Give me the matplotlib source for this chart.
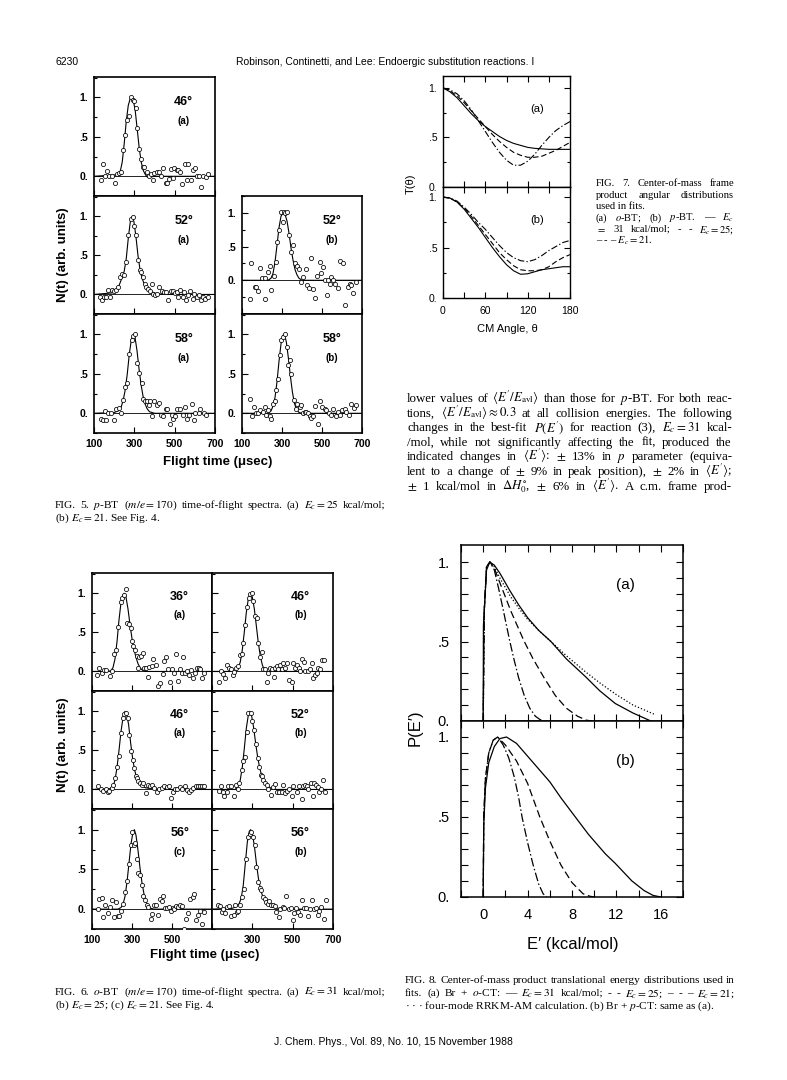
import numpy as np
import matplotlib
matplotlib.use('Agg')
import matplotlib.pyplot as plt
from matplotlib.ticker import MultipleLocator

plt.rcParams['mathtext.fontset'] = 'stix'
plt.rcParams['font.family'] = ['Liberation Sans', 'DejaVu Sans']

SANS = ['Liberation Sans', 'DejaVu Sans']
NARROW = ['Liberation Sans Narrow', 'Liberation Sans', 'DejaVu Sans']
SERIF = ['Liberation Serif', 'DejaVu Serif']

W, H = 787, 1080

# ---------------- data: time-of-flight spectra (t in usec, N(t)) ----------------
F5_46A = [(135,-0.05),(146,0.16),(155,0.0),(166,0.07),(176,0.01),(188,0.0),(204,-0.09),(216,0.03),(226,0.04),
          (234,0.05),(245,0.33),(254,0.52),(262,0.72),(272,0.76),(283,1.0),(292,0.97),(298,0.95),(307,0.87),
          (315,0.61),(325,0.35),(333,0.22),(341,0.12),(350,0.12),(361,0.05),(373,0.01),(381,0.03),(391,-0.05),
          (399,0.04),(411,0.05),(421,0.06),(432,0.0),(444,0.10),(455,-0.09),(462,-0.09),(470,-0.03),(482,0.09),
          (493,-0.02),(498,0.11),(510,0.08),(518,0.08),(528,0.05),(536,-0.10),(551,0.16),(563,-0.05),(568,0.16),
          (581,-0.05),(593,0.08),(601,0.11),(612,0.0),(622,0.0),(632,-0.14),(642,0.0),(655,-0.01),(665,0.03)]
FIT_5_46A = [(100,0),(220,0.02),(230,0.06),(240,0.18),(250,0.42),(260,0.7),(270,0.9),(280,0.99),(288,1.0),
             (295,0.97),(305,0.82),(315,0.58),(325,0.34),(335,0.17),(345,0.07),(355,0.02),(365,-0.01),
             (380,-0.01),(400,0),(700,0)]

F5_52A = [(128,-0.03),(138,-0.07),(148,-0.03),(158,-0.03),(170,0.06),(181,-0.03),(188,0.06),(198,0.05),
          (211,0.06),(221,0.09),(231,0.22),(241,0.26),(251,0.25),(261,0.41),(271,0.76),(281,0.97),(291,0.99),
          (300,0.88),(308,0.76),(318,0.44),(326,0.31),(334,0.29),(343,0.22),(351,0.14),(358,0.09),(368,0.07),
          (376,0.04),(386,0.14),(394,0.01),(402,-0.01),(414,0.01),(424,0.09),(436,0.05),(447,0.03),(456,0.03),
          (469,-0.07),(481,0.05),(491,0.04),(500,0.02),(511,0.03),(519,-0.03),(527,0.06),(539,-0.03),(547,0.03),
          (557,-0.07),(565,-0.01),(577,0.04),(589,-0.06),(597,0.01),(610,-0.03),(622,-0.01),(632,-0.07),
          (640,-0.03),(652,-0.06),(663,-0.03)]
FIT_5_52A = [(100,0),(190,0.02),(210,0.05),(225,0.12),(240,0.22),(250,0.3),(260,0.46),(270,0.72),(280,0.93),
             (290,1.0),(298,0.93),(308,0.74),(318,0.5),(328,0.32),(338,0.21),(348,0.14),(360,0.08),(380,0.04),
             (410,0.01),(450,0),(700,0)]

F5_52B = [(138,-0.28),(147,0.25),(163,-0.10),(172,-0.10),(180,-0.16),(188,0.18),(200,0.03),(213,0.03),
          (217,-0.28),(230,0.13),(242,0.21),(247,-0.14),(258,0.07),(268,0.27),(277,0.57),(285,0.75),(293,1.01),
          (305,0.87),(310,1.01),(315,1.0),(327,1.01),(335,0.67),(347,0.42),(355,0.52),(367,0.26),(375,0.21),
          (383,0.16),(393,-0.02),(405,0.05),(418,0.16),(425,-0.07),(435,-0.11),(447,0.33),(455,-0.13),
          (463,-0.26),(477,0.06),(488,0.27),(497,0.11),(505,0.20),(513,0.0),(527,-0.22),(530,0.0),(538,-0.05),
          (547,0.05),(555,0.0),(563,-0.05),(580,-0.12),(588,0.29),(605,0.25),(617,-0.36),(630,-0.10),
          (638,-0.05),(647,-0.07),(655,-0.19),(668,-0.02)]
FIT_5_52B = [(100,0),(230,0),(245,0.03),(255,0.1),(265,0.27),(275,0.52),(285,0.78),(295,0.95),(305,1.0),
             (315,0.98),(325,0.88),(335,0.7),(345,0.48),(355,0.3),(365,0.16),(375,0.08),(385,0.03),(400,0),(700,0)]

F5_58A = [(133,-0.07),(145,-0.08),(153,0.03),(161,-0.08),(170,0.01),(186,0.01),(200,-0.08),(211,0.06),
          (225,0.07),(236,0.01),(245,0.17),(253,0.33),(264,0.39),(274,0.75),(286,0.93),(294,0.98),(303,1.0),
          (311,0.64),(325,0.51),(336,0.39),(344,0.18),(353,0.16),(361,0.15),(371,0.10),(378,0.15),(386,-0.04),
          (398,0.16),(411,0.10),(424,0.13),(434,-0.02),(444,-0.03),(456,0.06),(464,0.05),(477,-0.14),
          (489,-0.02),(494,-0.07),(502,-0.04),(514,0.05),(527,0.05),(539,-0.02),(552,0.08),(560,-0.07),
          (569,-0.02),(584,0.12),(594,-0.09),(602,0.0),(619,0.0),(627,0.06),(644,0.01),(655,-0.02)]
FIT_5_58A = [(100,0),(200,0.01),(220,0.03),(235,0.08),(245,0.17),(255,0.3),(265,0.5),(275,0.75),(285,0.93),
             (295,1.0),(303,0.97),(313,0.8),(323,0.57),(333,0.37),(343,0.22),(353,0.12),(363,0.06),(375,0.02),
             (400,0),(700,0)]

F5_58B = [(138,0.18),(150,-0.04),(160,0.08),(172,0.01),(180,0.0),(192,0.04),(205,0.02),(213,0.08),(222,-0.02),
          (230,0.04),(238,-0.04),(247,-0.07),(255,0.12),(263,0.15),(272,0.30),(280,0.43),(288,0.74),(297,0.93),
          (305,0.97),(313,1.0),(325,0.84),(330,0.61),(338,0.67),(347,0.50),(358,0.17),(368,0.05),(377,0.12),
          (388,0.08),(397,0.10),(405,0.01),(413,0.02),(422,0.02),(430,0.01),(438,-0.04),(447,-0.06),(455,-0.04),
          (463,0.09),(480,-0.14),(488,0.15),(502,0.08),(513,0.06),(522,0.04),(535,0.0),(547,-0.02),(555,0.05),
          (568,-0.04),(580,0.02),(588,-0.02),(602,0.04),(613,0.06),(622,0.02),(635,-0.02),(647,0.12),(658,0.07),
          (668,0.10)]
FIT_5_58B = [(100,0),(230,0),(245,0.03),(255,0.09),(265,0.2),(275,0.4),(285,0.66),(295,0.88),(305,0.99),
             (313,1.0),(322,0.9),(332,0.7),(342,0.47),(352,0.27),(362,0.13),(372,0.05),(385,0.01),(400,0),(700,0)]

F6_36A = [(127,-0.05),(137,0.05),(148,-0.02),(160,0.02),(170,0.02),(190,-0.06),(200,0.01),(210,0.22),(220,0.28),
          (232,0.57),(243,0.89),(252,0.94),(262,0.98),(268,1.06),(277,0.62),(285,0.61),(293,0.55),(300,0.39),
          (307,0.33),(317,0.28),(323,0.20),(330,0.05),(337,0.19),(345,0.20),(353,0.24),(360,0.05),(368,0.05),
          (378,-0.07),(387,0.06),(398,0.07),(407,0.16),(418,0.08),(432,-0.18),(440,-0.15),(453,-0.03),(460,0.14),
          (470,0.18),(478,0.03),(490,-0.14),(502,0.03),(510,-0.02),(520,0.22),(532,-0.12),(540,0.03),(548,-0.02),
          (557,0.18),(567,-0.02),(577,0.0),(585,-0.04),(593,0.02),(603,-0.08),(615,-0.02),(623,0.05),(633,0.05),
          (640,0.03),(648,-0.08),(660,-0.02)]
FIT_6_36A = [(100,0),(180,0),(195,0.01),(205,0.05),(215,0.16),(225,0.38),(235,0.66),(245,0.88),(255,0.98),
             (262,1.0),(270,0.95),(280,0.8),(290,0.6),(300,0.42),(310,0.28),(320,0.18),(330,0.1),(340,0.05),
             (350,0.02),(365,0),(700,0)]

F6_46B = [(135,-0.13),(144,0.01),(153,-0.03),(163,-0.09),(173,0.08),(183,0.05),(193,0.03),(203,-0.04),
          (211,-0.01),(219,0.05),(229,0.07),(239,0.21),(247,0.22),(255,0.36),(265,0.59),(273,0.82),(282,0.94),
          (288,0.99),(296,1.0),(305,0.90),(313,0.71),(321,0.69),(330,0.37),(338,0.19),(346,0.25),(355,0.03),
          (363,0.03),(371,-0.13),(380,-0.02),(388,0.05),(396,0.03),(405,-0.07),(413,0.05),(421,0.07),(429,0.03),
          (438,0.08),(446,0.03),(454,0.11),(462,0.05),(474,0.11),(484,-0.11),(495,-0.13),(504,0.11),(512,0.05),
          (521,0.08),(529,0.05),(537,0.0),(545,0.16),(554,0.12),(562,0.0),(578,0.0),(587,0.03),(595,0.11),
          (603,-0.09),(612,-0.04),(620,-0.02),(628,0.05),(636,0.03),(645,0.15),(653,0.15)]
FIT_6_46B = [(100,0),(215,0),(230,0.04),(240,0.12),(250,0.27),(260,0.5),(270,0.75),(280,0.93),(290,1.0),
             (300,0.95),(310,0.8),(320,0.58),(330,0.36),(340,0.19),(350,0.08),(360,0.02),(375,0),(700,0)]

F6_46A = [(128,0.04),(143,0.0),(157,-0.02),(170,0.0),(178,-0.03),(187,-0.02),(198,0.02),(207,0.06),(215,0.15),
          (223,0.29),(237,0.43),(245,0.72),(253,0.91),(262,0.96),(270,0.98),(278,0.91),(287,0.70),(295,0.49),
          (303,0.38),(310,0.28),(318,0.17),(323,0.15),(332,0.11),(340,0.08),(348,0.06),(357,0.08),(368,-0.05),
          (378,0.06),(390,0.04),(398,0.06),(410,0.02),(423,-0.03),(435,0.0),(448,0.02),(460,0.04),(473,0.03),
          (485,0.05),(493,-0.11),(503,-0.03),(515,0.0),(527,0.0),(540,0.03),(552,0.0),(565,0.05),(573,-0.01),
          (585,-0.03),(595,-0.01),(607,0.02),(618,0.05),(628,0.05),(640,0.04),(652,0.04),(662,0.04)]
FIT_6_46A = [(100,0),(190,0.01),(205,0.04),(215,0.12),(225,0.28),(235,0.5),(245,0.74),(255,0.92),(265,1.0),
             (273,0.97),(283,0.83),(293,0.6),(303,0.4),(313,0.25),(323,0.15),(335,0.08),(350,0.04),(370,0.02),
             (400,0.01),(430,0),(700,0)]

F6_52B = [(136,-0.02),(145,0.04),(153,-0.03),(160,-0.09),(173,-0.03),(181,0.05),(193,0.05),(211,-0.08),
          (219,0.06),(228,0.01),(236,0.08),(247,0.25),(255,0.36),(264,0.41),(272,0.73),(280,0.98),(292,0.98),
          (300,0.88),(308,0.76),(318,0.58),(327,0.40),(335,0.29),(341,0.19),(348,0.17),(355,0.12),(363,0.08),
          (371,0.06),(380,0.01),(391,-0.07),(401,0.03),(413,0.07),(424,-0.03),(434,-0.03),(446,-0.03),
          (454,0.06),(462,-0.05),(471,-0.02),(484,0.01),(495,-0.09),(503,0.04),(520,-0.03),(533,0.04),
          (545,-0.12),(553,0.04),(561,0.06),(570,0.05),(578,0.0),(590,0.08),(600,-0.09),(608,0.08),(616,0.06),
          (624,0.03),(633,-0.03),(639,0.0),(649,0.12),(660,-0.03)]
FIT_6_52B = [(100,0),(215,0),(230,0.05),(240,0.12),(250,0.28),(260,0.52),(270,0.78),(280,0.95),(288,1.0),
             (296,0.95),(306,0.8),(316,0.6),(326,0.42),(336,0.28),(346,0.18),(356,0.11),(370,0.06),(390,0.02),
             (420,0),(700,0)]

F6_56C = [(128,0.0),(137,0.13),(148,0.14),(157,-0.10),(165,0.05),(178,-0.05),(190,0.03),(202,0.11),(210,-0.10),
          (220,0.09),(228,-0.09),(237,-0.09),(245,-0.02),(257,0.07),(267,0.22),(275,0.36),(285,0.57),(293,0.81),
          (302,0.97),(310,0.81),(317,0.83),(325,0.63),(332,0.45),(340,0.43),(348,0.30),(357,0.17),(365,0.11),
          (373,0.05),(382,0.03),(393,-0.12),(402,-0.06),(410,0.05),(418,0.05),(432,-0.07),(440,0.13),(448,0.10),
          (457,0.17),(465,0.01),(477,0.01),(487,0.03),(493,-0.02),(503,0.01),(512,0.0),(520,0.04),(532,0.03),
          (540,0.05),(548,0.04),(560,-0.25),(568,-0.12),(578,-0.05),(590,0.13),(603,0.15),(612,0.19),
          (620,-0.14),(628,-0.08),(640,-0.02),(648,-0.19),(660,-0.04)]
FIT_6_56C = [(100,0),(230,0),(245,0.02),(255,0.06),(265,0.16),(275,0.34),(285,0.58),(295,0.82),(305,0.97),
             (312,1.0),(320,0.93),(330,0.74),(340,0.52),(350,0.33),(360,0.19),(370,0.1),(380,0.04),(395,0.01),
             (410,0),(700,0)]

F6_56B = [(132,0.05),(140,0.04),(149,-0.03),(157,0.0),(165,-0.05),(173,0.03),(185,0.04),(195,-0.09),(207,-0.07),
          (215,0.05),(223,-0.04),(230,-0.02),(240,0.05),(248,0.15),(258,0.25),(268,0.63),(278,0.91),(286,0.94),
          (295,0.97),(303,0.91),(311,0.81),(319,0.53),(328,0.34),(336,0.26),(344,0.24),(352,0.15),(361,0.13),
          (369,0.09),(377,0.07),(385,0.10),(394,0.05),(402,0.05),(410,0.04),(418,-0.03),(430,-0.10),(438,0.0),
          (450,0.03),(458,0.01),(466,0.16),(480,0.0),(491,0.01),(501,-0.14),(508,-0.05),(518,0.01),(526,-0.03),
          (538,-0.07),(546,0.11),(554,0.01),(566,0.01),(574,-0.09),(584,0.0),(595,0.12),(604,0.0),(616,0.01),
          (624,-0.07),(632,-0.02),(640,0.03),(653,-0.12),(665,0.12)]
FIT_6_56B = [(100,0),(200,0.01),(220,0.03),(235,0.07),(245,0.14),(255,0.3),(265,0.57),(275,0.84),(285,0.98),
             (292,1.0),(300,0.95),(310,0.8),(320,0.58),(330,0.39),(340,0.26),(350,0.17),(360,0.11),(375,0.06),
             (395,0.03),(430,0.01),(470,0),(700,0)]

# ---------------- data: c.m. angular distributions T(theta) ----------------
THETA = [0, 10, 20, 30, 40, 50, 60, 70, 80, 90, 100, 110, 120, 130, 140, 150, 160, 170, 180]
T7A_31 = [1.0, 0.96, 0.9, 0.82, 0.74, 0.67, 0.61, 0.56, 0.51, 0.47, 0.44, 0.42, 0.40, 0.39, 0.385, 0.38, 0.38, 0.38, 0.38]
T7A_25 = [1.0, 0.97, 0.92, 0.85, 0.77, 0.69, 0.61, 0.53, 0.46, 0.40, 0.35, 0.32, 0.30, 0.30, 0.31, 0.34, 0.37, 0.41, 0.45]
T7A_21 = [1.0, 0.98, 0.94, 0.87, 0.78, 0.67, 0.56, 0.45, 0.35, 0.27, 0.22, 0.22, 0.26, 0.33, 0.42, 0.50, 0.57, 0.62, 0.66]
T7B_31 = [1.0, 0.99, 0.95, 0.88, 0.79, 0.70, 0.60, 0.50, 0.41, 0.33, 0.27, 0.235, 0.24, 0.26, 0.28, 0.29, 0.30, 0.31, 0.31]
T7B_25 = [1.0, 0.99, 0.95, 0.89, 0.81, 0.72, 0.63, 0.54, 0.45, 0.38, 0.32, 0.28, 0.27, 0.27, 0.28, 0.31, 0.36, 0.40, 0.43]
T7B_21 = [1.0, 0.99, 0.96, 0.90, 0.83, 0.75, 0.68, 0.60, 0.52, 0.45, 0.40, 0.37, 0.36, 0.38, 0.42, 0.47, 0.51, 0.55, 0.57]

# ---------------- data: P(E') translational energy distributions ----------------
E8A_31 = [0, 0.02, 0.3, 0.6, 1.0, 1.5, 2.4, 3.2, 4.0, 5.0, 6.1, 7.5, 9.2, 10.5, 11.9, 13.5, 15.1]
P8A_31 = [0, 0.6, 0.95, 1.0, 0.98, 0.93, 0.82, 0.73, 0.65, 0.57, 0.5, 0.39, 0.28, 0.19, 0.11, 0.05, 0.0]
E8A_25 = [0, 0.1, 0.3, 0.6, 1.0, 1.5, 2.0, 2.5, 3.0, 3.7, 4.5, 5.5, 6.5, 7.5, 8.5, 9.3, 9.8]
P8A_25 = [0, 0.7, 0.97, 1.0, 0.96, 0.87, 0.78, 0.69, 0.61, 0.5, 0.39, 0.27, 0.16, 0.08, 0.03, 0.005, 0]
E8A_21 = [0, 0.1, 0.3, 0.6, 1.0, 1.4, 1.8, 2.1, 2.4, 2.8, 3.2, 3.7, 4.2, 4.7, 5.1, 5.5]
P8A_21 = [0, 0.7, 0.97, 1.0, 0.95, 0.83, 0.7, 0.6, 0.5, 0.38, 0.27, 0.16, 0.08, 0.03, 0.01, 0]
E8A_RRKM = [0, 0.1, 0.3, 0.6, 1.0, 1.5, 2.4, 3.2, 4.0, 5.0, 6.1, 7.5, 9.2, 10.5, 11.9, 13.5, 15.5]
P8A_RRKM = [0, 0.7, 0.97, 1.0, 0.97, 0.9, 0.79, 0.71, 0.64, 0.57, 0.5, 0.41, 0.31, 0.24, 0.17, 0.1, 0.04]
E8B_31 = [0, 0.05, 0.2, 0.5, 1.0, 1.5, 2.1, 3.0, 4.0, 5.0, 6.0, 7.0, 8.3, 9.5, 11.0, 11.9, 13.4, 14.5, 15.3, 16.0]
P8B_31 = [0, 0.45, 0.68, 0.84, 0.94, 0.99, 1.0, 0.96, 0.88, 0.8, 0.72, 0.62, 0.5, 0.39, 0.27, 0.21, 0.1, 0.04, 0.01, 0]
E8B_25 = [0, 0.05, 0.2, 0.5, 0.9, 1.3, 2.0, 3.0, 4.0, 5.1, 6.0, 7.0, 8.0, 9.0, 9.6, 10.0]
P8B_25 = [0, 0.5, 0.74, 0.9, 0.98, 1.0, 0.95, 0.85, 0.71, 0.5, 0.35, 0.2, 0.09, 0.02, 0.005, 0]
E8B_21 = [0, 0.05, 0.2, 0.5, 0.9, 1.3, 1.8, 2.3, 2.8, 3.2, 3.5, 4.0, 4.5, 5.0, 5.4, 5.7]
P8B_21 = [0, 0.5, 0.74, 0.9, 0.98, 1.0, 0.95, 0.87, 0.75, 0.62, 0.5, 0.34, 0.2, 0.08, 0.02, 0]

# ---------------- text ----------------
HEAD_NUM = "6230"
HEAD_TITLE = "Robinson, Continetti, and Lee: Endoergic substitution reactions. I"
FOOTER = "J. Chem. Phys., Vol. 89, No. 10, 15 November 1988"
CAP5 = [r"FIG. 5. $p$-BT ($m/e = 170$) time-of-flight spectra. (a) $E_c = 25$ kcal/mol;",
        r"(b) $E_c = 21$. See Fig. 4."]
CAP6 = [r"FIG. 6. $o$-BT ($m/e = 170$) time-of-flight spectra. (a) $E_c = 31$ kcal/mol;",
        r"(b) $E_c = 25$; (c) $E_c = 21$. See Fig. 4."]
CAP7 = ["FIG. 7. Center-of-mass frame",
        "product angular distributions",
        "used in fits.",
        r"(a) $o$-BT; (b) $p$-BT. — $E_c$",
        r"$=$ 31 kcal/mol; - - $E_c = 25$;",
        r"– - – $E_c = 21$."]
CAP8 = ["FIG. 8. Center-of-mass product translational energy distributions used in",
        r"fits. (a) Br + $o$-CT: — $E_c = 31$ kcal/mol; - - $E_c = 25$; – - – $E_c = 21$;",
        r"· · · four-mode RRKM-AM calculation. (b) Br + $p$-CT: same as (a)."]
BODY = [r"lower values of $\langle E'/E_{\rm avl}\rangle$ than those for $p$-BT. For both reac-",
        r"tions, $\langle E'/E_{\rm avl}\rangle \approx 0.3$ at all collision energies. The following",
        r"changes in the best-fit $P(E')$ for reaction (3), $E_c = 31$ kcal-",
        "/mol, while not significantly affecting the fit, produced the",
        r"indicated changes in $\langle E'\rangle$: $\pm$ 13% in $p$ parameter (equiva-",
        r"lent to a change of $\pm$ 9% in peak position), $\pm$ 2% in $\langle E'\rangle$;",
        r"$\pm$ 1 kcal/mol in $\Delta H^{\circ}_{0}$, $\pm$ 6% in $\langle E'\rangle$. A c.m. frame prod-"]

fig = plt.figure(figsize=(W / 100, H / 100), dpi=100)
fig.patch.set_facecolor('white')


def box(x0, y0, x1, y1):
    return fig.add_axes([x0 / W, 1 - y1 / H, (x1 - x0) / W, (y1 - y0) / H])


def put(x, y, s, **kw):
    return fig.text(x / W, 1 - y / H, s, **kw)


def split_words(s):
    out, cur, inmath = [], '', False
    for ch in s:
        if ch == '$':
            inmath = not inmath
        if ch == ' ' and not inmath:
            if cur:
                out.append(cur)
            cur = ''
        else:
            cur += ch
    if cur:
        out.append(cur)
    return out


def justify(x0, x1, y, s, size, family=SERIF):
    # lay the words out so the line fills x0..x1 (y is the baseline, in px)
    words = split_words(s)
    r = fig.canvas.get_renderer()
    while True:
        arts = [put(0, y, w, fontsize=size, family=family, va='baseline') for w in words]
        widths = [a.get_window_extent(r).width for a in arts]
        gap = (x1 - x0 - sum(widths)) / max(len(words) - 1, 1)
        if gap >= 0.18 * size:
            break
        for a in arts:
            a.remove()
        size *= 0.97
    x = x0
    for a, w in zip(arts, widths):
        a.set_position((x / W, 1 - y / H))
        x += w + gap


def tof_panel(px, pts, fit, angle, tag, ylim=(-0.25, 1.26), xlabels=None, ylabels=True, apos=(0.74, 0.79)):
    ax = box(*px)
    ft, fn = zip(*fit)
    ax.plot(ft, fn, color='black', lw=0.8, zorder=2)
    ax.axhline(0, color='black', lw=0.6, zorder=1)
    t, n = zip(*pts)
    ax.plot(t, n, 'o', ms=3.0, mfc='white', mec='black', mew=0.55, zorder=3)
    ax.set_xlim(100, 700)
    ax.set_ylim(*ylim)
    ax.set_xticks([100, 300, 500, 700])
    ax.set_yticks([0, 0.5, 1.0])
    ax.yaxis.set_minor_locator(MultipleLocator(0.25))
    ax.tick_params(which='both', direction='in', width=0.8, labelsize=7.5, pad=4)
    ax.tick_params(which='major', length=4)
    ax.tick_params(which='minor', length=2.5)
    if ylabels:
        ax.set_yticklabels(['0.', '.5', '1.'], fontweight='bold')
    else:
        ax.set_yticklabels([])
    if xlabels:
        ax.set_xticklabels(xlabels, fontweight='bold')
    else:
        ax.set_xticklabels([])
    for sp in ax.spines.values():
        sp.set_linewidth(1.2)
    ax.text(apos[0], apos[1], angle, transform=ax.transAxes, ha='center', va='center',
            fontsize=9, fontweight='bold')
    ax.text(apos[0], apos[1] - 0.16, tag, transform=ax.transAxes, ha='center', va='center',
            fontsize=7, fontweight='bold')
    return ax


XL_ALL = ['100', '300', '500', '700']

# ---------------- FIG. 5 ----------------
tof_panel((94, 77, 215, 196), F5_46A, FIT_5_46A, '46°', '(a)')
tof_panel((94, 196, 215, 314), F5_52A, FIT_5_52A, '52°', '(a)')
tof_panel((242, 196, 362, 314), F5_52B, FIT_5_52B, '52°', '(b)', ylim=(-0.5, 1.25), apos=(0.75, 0.79))
tof_panel((94, 314, 215, 433), F5_58A, FIT_5_58A, '58°', '(a)', xlabels=XL_ALL)
tof_panel((242, 314, 362, 433), F5_58B, FIT_5_58B, '58°', '(b)', xlabels=XL_ALL, apos=(0.75, 0.79))
put(218, 462, 'Flight time (μsec)', ha='center', va='center', fontsize=9.5, fontweight='bold', family=NARROW)
put(63, 255, 'N(t) (arb. units)', ha='center', va='center', rotation=90, fontsize=9.5, fontweight='bold',
    family=NARROW)
justify(55, 385, 508, CAP5[0], 8.2)
put(55, 521, CAP5[1], fontsize=8.2, family=SERIF, va='baseline')

# ---------------- FIG. 6 ----------------
tof_panel((92, 573, 212, 691), F6_36A, FIT_6_36A, '36°', '(a)', apos=(0.73, 0.8))
tof_panel((212, 573, 333, 691), F6_46B, FIT_6_46B, '46°', '(b)', ylabels=False, apos=(0.73, 0.8))
tof_panel((92, 691, 212, 809), F6_46A, FIT_6_46A, '46°', '(a)', apos=(0.73, 0.8))
tof_panel((212, 691, 333, 809), F6_52B, FIT_6_52B, '52°', '(b)', ylabels=False, apos=(0.73, 0.8))
tof_panel((92, 809, 212, 929), F6_56C, FIT_6_56C, '56°', '(c)', xlabels=['100', '300', '500', ''],
          apos=(0.73, 0.8))
tof_panel((212, 809, 333, 929), F6_56B, FIT_6_56B, '56°', '(b)', ylabels=False, xlabels=['', '300', '500', '700'],
          apos=(0.73, 0.8))
put(205, 955, 'Flight time (μsec)', ha='center', va='center', fontsize=9.5, fontweight='bold', family=NARROW)
put(63, 745, 'N(t) (arb. units)', ha='center', va='center', rotation=90, fontsize=9.5, fontweight='bold',
    family=NARROW)
justify(55, 385, 995, CAP6[0], 8.2)
put(55, 1008, CAP6[1], fontsize=8.2, family=SERIF, va='baseline')


# ---------------- FIG. 7 ----------------
def ang_panel(px, curves, tag, top, xlabels):
    ax = box(*px)
    styles = ['-', (0, (5, 2.5)), (0, (6, 2, 1.2, 2))]
    for ys, ls in zip(curves, styles):
        ax.plot(THETA, ys, color='black', lw=0.8, linestyle=ls)
    ax.set_xlim(0, 180)
    ax.set_ylim(0, top)
    ax.set_xticks(range(0, 181, 30))
    ax.set_yticks([0, 0.5, 1.0])
    ax.yaxis.set_minor_locator(MultipleLocator(0.25))
    ax.tick_params(which='both', direction='in', top=True, right=True, width=0.8, labelsize=7.5, pad=4)
    ax.tick_params(which='major', length=4)
    ax.tick_params(which='minor', length=2.5)
    ax.set_yticklabels(['0.', '.5', '1.'])
    if xlabels:
        ax.set_xticklabels(['0', '', '60', '', '120', '', '180'])
        ax.tick_params(axis='x', pad=6)
    else:
        ax.set_xticklabels([])
    for sp in ax.spines.values():
        sp.set_linewidth(1.0)
    ax.text(0.74, 0.7, tag, transform=ax.transAxes, ha='center', va='center', fontsize=8)
    return ax


ang_panel((443, 76, 570, 187), [T7A_31, T7A_25, T7A_21], '(a)', 1.12, False)
ang_panel((443, 187, 570, 298), [T7B_31, T7B_25, T7B_21], '(b)', 1.10, True)
put(411, 184, 'T(θ)', ha='center', va='center', rotation=90, fontsize=8)
put(507, 329, 'CM Angle, θ', ha='center', va='center', fontsize=8)
CAP7_Y = [186, 197.5, 209, 220.5, 232, 243.5]
justify(596, 734, CAP7_Y[0], CAP7[0], 7.6)
justify(596, 734, CAP7_Y[1], CAP7[1], 7.6)
put(596, CAP7_Y[2], CAP7[2], fontsize=7.6, family=SERIF, va='baseline')
justify(596, 734, CAP7_Y[3], CAP7[3], 7.6)
justify(596, 734, CAP7_Y[4], CAP7[4], 7.6)
put(596, CAP7_Y[5], CAP7[5], fontsize=7.6, family=SERIF, va='baseline')

# ---------------- body text ----------------
for i, line in enumerate(BODY):
    justify(407, 732, 402 + 14.6 * i, line, 9.3)


# ---------------- FIG. 8 ----------------
def pe_panel(px, curves, tag, top, xlabels):
    ax = box(*px)
    for e, p, ls in curves:
        ax.plot(e, p, color='black', lw=0.9, linestyle=ls)
    ax.set_xlim(-2, 18)
    ax.set_ylim(0, top)
    ax.set_xticks(range(-2, 19, 2))
    ax.set_yticks(np.arange(0, 1.01, 0.1))
    ax.tick_params(direction='in', top=True, right=True, length=5, width=0.8, labelsize=10.5, pad=8)
    ax.set_yticklabels(['0.', '', '', '', '', '.5', '', '', '', '', '1.'])
    if xlabels:
        ax.set_xticklabels(['', '0', '', '4', '', '8', '', '12', '', '16', ''])
    else:
        ax.set_xticklabels([])
    for sp in ax.spines.values():
        sp.set_linewidth(1.1)
    ax.text(0.74, 0.77, tag, transform=ax.transAxes, ha='center', va='center', fontsize=11)
    return ax


DASH = (0, (6, 3))
DASHDOT = (0, (7, 2, 1.2, 2))
DOT = (0, (1, 1.6))
pe_panel((461, 545, 683, 721), [(E8A_31, P8A_31, '-'), (E8A_25, P8A_25, DASH), (E8A_21, P8A_21, DASHDOT),
                                (E8A_RRKM, P8A_RRKM, DOT)], '(a)', 1.107, False)
pe_panel((461, 721, 683, 897), [(E8B_31, P8B_31, '-'), (E8B_25, P8B_25, DASH), (E8B_21, P8B_21, DASHDOT)],
         '(b)', 1.10, True)
put(573, 945, 'E′ (kcal/mol)', ha='center', va='center', fontsize=12)
put(415, 728, 'P(E′)', ha='center', va='center', rotation=90, fontsize=12)
justify(405, 735, 983, CAP8[0], 8.2)
justify(405, 735, 996, CAP8[1], 8.2)
put(405, 1009, CAP8[2], fontsize=8.2, family=SERIF, va='baseline')

# ---------------- running head / foot ----------------
put(55, 62, HEAD_NUM, fontsize=7.5, va='center')
put(385, 62, HEAD_TITLE, fontsize=7.5, va='center', ha='center')
put(393, 1042, FOOTER, fontsize=7.5, va='center', ha='center')

fig.savefig('out.png', dpi=100, facecolor='white')
